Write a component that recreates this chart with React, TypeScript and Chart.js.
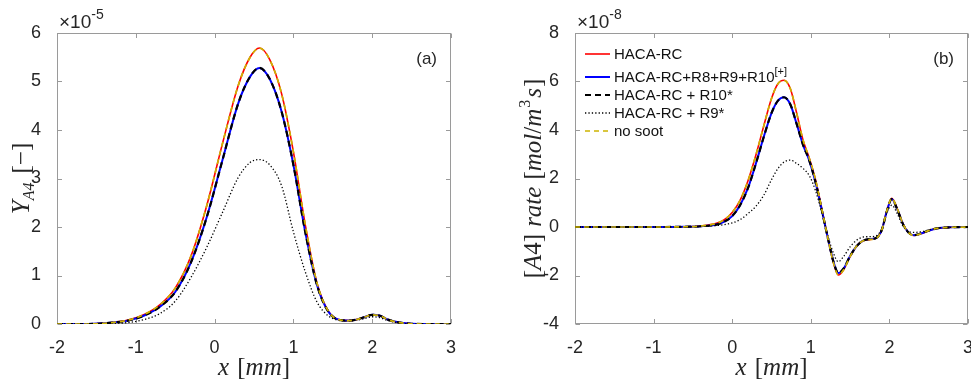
import React, { useEffect, useRef } from 'react';
import { Chart, registerables } from 'chart.js';
Chart.register(...registerables);

// ---------- data ----------
const xLeft = [-2, -1.6, -1.3, -1.1, -0.9, -0.7, -0.5, -0.3, -0.1, 0.1, 0.3, 0.45, 0.57, 0.7, 0.85, 1.0, 1.15, 1.3, 1.45, 1.6, 1.7, 1.8, 1.9, 2.0, 2.1, 2.2, 2.35, 2.5, 2.7, 3.0];
const redLeft = [0, 0, 0.03, 0.08, 0.19, 0.39, 0.74, 1.4, 2.44, 3.72, 4.92, 5.5, 5.69, 5.45, 4.75, 3.55, 2.05, 0.84, 0.25, 0.08, 0.07, 0.09, 0.14, 0.19, 0.17, 0.09, 0.03, 0.005, 0, 0];
const blueLeft = [0, 0, 0.03, 0.07, 0.17, 0.35, 0.66, 1.27, 2.2, 3.38, 4.55, 5.1, 5.28, 5.05, 4.38, 3.28, 1.9, 0.8, 0.24, 0.08, 0.07, 0.09, 0.14, 0.19, 0.17, 0.09, 0.03, 0.005, 0, 0];
const r10Left = [0, 0, 0.03, 0.07, 0.17, 0.35, 0.66, 1.27, 2.2, 3.38, 4.55, 5.1, 5.28, 5.05, 4.38, 3.28, 1.9, 0.8, 0.24, 0.08, 0.07, 0.09, 0.14, 0.19, 0.17, 0.09, 0.03, 0.005, 0, 0];
const r9Left = [0, 0, 0.01, 0.03, 0.09, 0.21, 0.47, 0.96, 1.58, 2.3, 3.02, 3.33, 3.39, 3.28, 2.85, 1.9, 1.08, 0.45, 0.16, 0.07, 0.06, 0.08, 0.11, 0.15, 0.13, 0.07, 0.02, 0.004, 0, 0];
const noSootLeft = [0, 0, 0.03, 0.08, 0.19, 0.39, 0.74, 1.4, 2.44, 3.72, 4.92, 5.5, 5.69, 5.45, 4.75, 3.55, 2.05, 0.84, 0.25, 0.08, 0.07, 0.09, 0.14, 0.19, 0.17, 0.09, 0.03, 0.005, 0, 0];

const xRight = [-2, -1.5, -1.0, -0.6, -0.4, -0.2, -0.1, 0, 0.1, 0.2, 0.3, 0.4, 0.5, 0.58, 0.66, 0.74, 0.82, 0.9, 0.98, 1.06, 1.14, 1.22, 1.29, 1.35, 1.42, 1.5, 1.58, 1.66, 1.74, 1.82, 1.9, 1.97, 2.03, 2.1, 2.17, 2.24, 2.31, 2.4, 2.5, 2.6, 2.8, 3.0];
const redRight = [0, 0, 0, 0.01, 0.04, 0.15, 0.3, 0.6, 1.1, 1.9, 2.95, 4.15, 5.3, 5.9, 6.05, 5.7, 4.7, 3.6, 2.85, 1.95, 0.75, -0.5, -1.5, -1.98, -1.75, -1.22, -0.8, -0.58, -0.52, -0.48, -0.15, 0.7, 1.18, 0.75, 0.15, -0.22, -0.35, -0.28, -0.15, -0.06, -0.01, 0];
const blueRight = [0, 0, 0, 0.01, 0.03, 0.1, 0.22, 0.45, 0.9, 1.6, 2.6, 3.7, 4.7, 5.2, 5.35, 5.05, 4.25, 3.4, 2.75, 1.85, 0.7, -0.5, -1.45, -1.9, -1.7, -1.2, -0.8, -0.57, -0.5, -0.47, -0.15, 0.68, 1.15, 0.73, 0.14, -0.22, -0.34, -0.27, -0.15, -0.06, -0.01, 0];
const r10Right = [0, 0, 0, 0.01, 0.03, 0.1, 0.22, 0.45, 0.9, 1.6, 2.6, 3.7, 4.7, 5.2, 5.35, 5.05, 4.25, 3.4, 2.75, 1.85, 0.7, -0.5, -1.45, -1.9, -1.7, -1.2, -0.8, -0.57, -0.5, -0.47, -0.15, 0.68, 1.15, 0.73, 0.14, -0.22, -0.34, -0.27, -0.15, -0.06, -0.01, 0];
const r9Right = [0, 0, 0, 0, 0.02, 0.06, 0.1, 0.17, 0.3, 0.55, 0.85, 1.3, 1.95, 2.4, 2.68, 2.76, 2.62, 2.42, 2.12, 1.5, 0.6, -0.4, -1.1, -1.43, -1.2, -0.82, -0.55, -0.42, -0.4, -0.38, -0.1, 0.6, 0.9, 0.55, 0.05, -0.17, -0.22, -0.2, -0.12, -0.05, -0.01, 0];
const noSootRight = [0, 0, 0, 0.01, 0.04, 0.15, 0.3, 0.6, 1.1, 1.9, 2.95, 4.15, 5.3, 5.9, 6.05, 5.7, 4.7, 3.6, 2.85, 1.95, 0.75, -0.5, -1.5, -1.98, -1.75, -1.22, -0.8, -0.58, -0.52, -0.48, -0.15, 0.7, 1.18, 0.75, 0.15, -0.22, -0.35, -0.28, -0.15, -0.06, -0.01, 0];

const seriesLabels = ['HACA-RC', 'HACA-RC+R8+R9+R10', 'HACA-RC + R10*', 'HACA-RC + R9*', 'no soot'];
const seriesSup = ['', '[+]', '', '', ''];
const xTickValues = [-2, -1, 0, 1, 2, 3];

// ---------- styling ----------
const SANS = '"Liberation Sans", Arial, Helvetica, sans-serif';
const SERIF = '"Liberation Serif", "Times New Roman", serif';
const TXT = '#262626';
const FRAME = '#9a9a9a';
const COLORS = ['#ff0000', '#0000ff', '#000000', '#000000', '#cdb400'];
const WIDTHS = [1.6, 2.0, 2.2, 1.3, 1.7];
const DASHES: number[][] = [[], [], [6, 4], [1.3, 2.1], [5, 4]];
const ORDERS = [4, 3, 2, 1, 0];

type Seg = { t: string; f: string; dy?: number; dx?: number };

function drawRich(ctx: CanvasRenderingContext2D, segs: Seg[], x: number, y: number, align: 'left' | 'center' | 'right') {
  let w = 0;
  for (const s of segs) { ctx.font = s.f; w += ctx.measureText(s.t).width + (s.dx || 0); }
  let cx = align === 'left' ? x : align === 'center' ? x - w / 2 : x - w;
  ctx.textAlign = 'left';
  ctx.textBaseline = 'alphabetic';
  for (const s of segs) {
    ctx.font = s.f;
    cx += s.dx || 0;
    ctx.fillText(s.t, cx, y + (s.dy || 0));
    cx += ctx.measureText(s.t).width;
  }
}

const it = (px: number) => `italic ${px}px ${SERIF}`;
const up = (px: number) => `${px}px ${SERIF}`;

type PanelCfg = {
  yTitle: Seg[];
  yTitleX: number;
  exp: string;
  tag: string;
  legend: boolean;
};

function makePlugin(cfg: PanelCfg) {
  return {
    id: 'matlabDecor',
    beforeDatasetsDraw(chart: any) {
      const { ctx, chartArea: a, scales } = chart;
      ctx.save();
      ctx.strokeStyle = FRAME;
      ctx.lineWidth = 1;
      const L = Math.round(a.left) + 0.5, R = Math.round(a.right) - 0.5;
      const T = Math.round(a.top) + 0.5, B = Math.round(a.bottom) - 0.5;
      ctx.strokeRect(L, T, R - L, B - T);
      ctx.beginPath();
      const tl = 4.5;
      for (const t of scales.x.ticks) {
        const px = Math.round(scales.x.getPixelForValue(t.value)) + 0.5;
        ctx.moveTo(px, B); ctx.lineTo(px, B - tl);
        ctx.moveTo(px, T); ctx.lineTo(px, T + tl);
      }
      for (const t of scales.y.ticks) {
        const py = Math.round(scales.y.getPixelForValue(t.value)) + 0.5;
        ctx.moveTo(L, py); ctx.lineTo(L + tl, py);
        ctx.moveTo(R, py); ctx.lineTo(R - tl, py);
      }
      ctx.stroke();
      ctx.restore();
    },
    afterDraw(chart: any) {
      const { ctx, chartArea: a } = chart;
      ctx.save();
      ctx.fillStyle = TXT;
      // x title
      drawRich(ctx, [
        { t: 'x', f: it(25) }, { t: ' [', f: up(25), dx: 2 }, { t: 'mm', f: it(25) }, { t: ']', f: up(25) },
      ], (a.left + a.right) / 2, 375, 'center');
      // y title rotated
      ctx.save();
      ctx.translate(cfg.yTitleX, (a.top + a.bottom) / 2);
      ctx.rotate(-Math.PI / 2);
      drawRich(ctx, cfg.yTitle, 0, 0, 'center');
      ctx.restore();
      // exponent
      drawRich(ctx, [
        { t: '\u00d710', f: `19px ${SANS}` }, { t: cfg.exp, f: `14px ${SANS}`, dy: -9 },
      ], a.left + 2, 28, 'left');
      // panel tag
      ctx.font = `17px ${SANS}`;
      ctx.textAlign = 'right';
      ctx.textBaseline = 'alphabetic';
      ctx.fillText(cfg.tag, a.right - 14, 64);
      // legend
      if (cfg.legend) {
        const rows = [54, 77, 95, 113, 131];
        const x0 = a.left + 10, x1 = a.left + 35, tx = a.left + 39;
        chart.data.datasets.forEach((ds: any, i: number) => {
          const y = rows[i];
          ctx.save();
          ctx.strokeStyle = ds.borderColor;
          ctx.lineWidth = ds.borderWidth;
          ctx.setLineDash(ds.borderDash || []);
          ctx.beginPath();
          ctx.moveTo(x0, y); ctx.lineTo(x1, y);
          ctx.stroke();
          ctx.restore();
          ctx.fillStyle = '#111';
          const segs: Seg[] = [{ t: ds.label, f: `15px ${SANS}` }];
          if (ds.sup) segs.push({ t: ds.sup, f: `11px ${SANS}`, dy: -7 });
          drawRich(ctx, segs, tx, y + 5, 'left');
        });
      }
      ctx.restore();
    },
  };
}

function buildDatasets(xs: number[], ys: number[][]) {
  return ys.map((arr, i) => ({
    label: seriesLabels[i],
    sup: seriesSup[i],
    data: xs.map((x, k) => ({ x, y: arr[k] })),
    borderColor: COLORS[i],
    backgroundColor: COLORS[i],
    borderWidth: WIDTHS[i],
    borderDash: DASHES[i],
    pointRadius: 0,
    cubicInterpolationMode: 'monotone',
    fill: false,
    order: ORDERS[i],
  }));
}

function makeOptions(yMin: number, yMax: number, yStep: number, yWidth: number, padRight: number) {
  const tickFont = { family: SANS, size: 18 };
  return {
    responsive: false,
    animation: false,
    events: [],
    layout: { padding: { top: 33, right: padRight, left: 0, bottom: 0 } },
    plugins: { legend: { display: false }, tooltip: { enabled: false }, title: { display: false } },
    scales: {
      x: {
        type: 'linear', min: -2, max: 3,
        afterBuildTicks: (s: any) => { s.ticks = xTickValues.map((v) => ({ value: v })); },
        ticks: { font: tickFont, color: TXT, padding: 5, maxRotation: 0, autoSkip: false, callback: (v: any) => String(v) },
        grid: { display: false }, border: { display: false },
        afterFit: (s: any) => { s.height = 61; s.paddingLeft = 0; s.paddingRight = 0; },
      },
      y: {
        type: 'linear', min: yMin, max: yMax,
        ticks: { stepSize: yStep, font: tickFont, color: TXT, padding: 8, callback: (v: any) => String(v) },
        grid: { display: false }, border: { display: false },
        afterFit: (s: any) => { s.width = yWidth; s.paddingTop = 0; s.paddingBottom = 0; },
      },
    },
  };
}

export default function App() {
  const leftRef = useRef<HTMLCanvasElement>(null);
  const rightRef = useRef<HTMLCanvasElement>(null);

  useEffect(() => {
    const left = new Chart(leftRef.current as HTMLCanvasElement, {
      type: 'line',
      data: { datasets: buildDatasets(xLeft, [redLeft, blueLeft, r10Left, r9Left, noSootLeft]) as any },
      options: makeOptions(0, 6, 1, 57, 34) as any,
      plugins: [makePlugin({
        yTitle: [
          { t: 'Y', f: it(25) }, { t: 'A4', f: it(16), dy: 5 }, { t: '[\u2212]', f: up(25), dx: 9 },
        ],
        yTitleX: 29, exp: '-5', tag: '(a)', legend: false,
      })],
    });
    const right = new Chart(rightRef.current as HTMLCanvasElement, {
      type: 'line',
      data: { datasets: buildDatasets(xRight, [redRight, blueRight, r10Right, r9Right, noSootRight]) as any },
      options: makeOptions(-4, 8, 2, 90, 3) as any,
      plugins: [makePlugin({
        yTitle: [
          { t: '[', f: up(25) }, { t: 'A', f: it(25) }, { t: '4]', f: up(25) },
          { t: 'rate', f: it(25), dx: 7 }, { t: '[', f: up(25), dx: 7 }, { t: 'mol', f: it(25) },
          { t: '/', f: up(25) }, { t: 'm', f: it(25) }, { t: '3', f: up(16), dy: -11, dx: 1 },
          { t: 's', f: it(25), dx: 2 }, { t: ']', f: up(25), dx: 1 },
        ],
        yTitleX: 56, exp: '-8', tag: '(b)', legend: true,
      })],
    });
    return () => { left.destroy(); right.destroy(); };
  }, []);

  return (
    <div style={{ position: 'fixed', left: 0, top: 0, width: 971, height: 385, background: '#fff', overflow: 'hidden' }}>
      <canvas ref={leftRef} width={485} height={385} style={{ position: 'absolute', left: 0, top: 0 }} />
      <canvas ref={rightRef} width={486} height={385} style={{ position: 'absolute', left: 485, top: 0 }} />
    </div>
  );
}
